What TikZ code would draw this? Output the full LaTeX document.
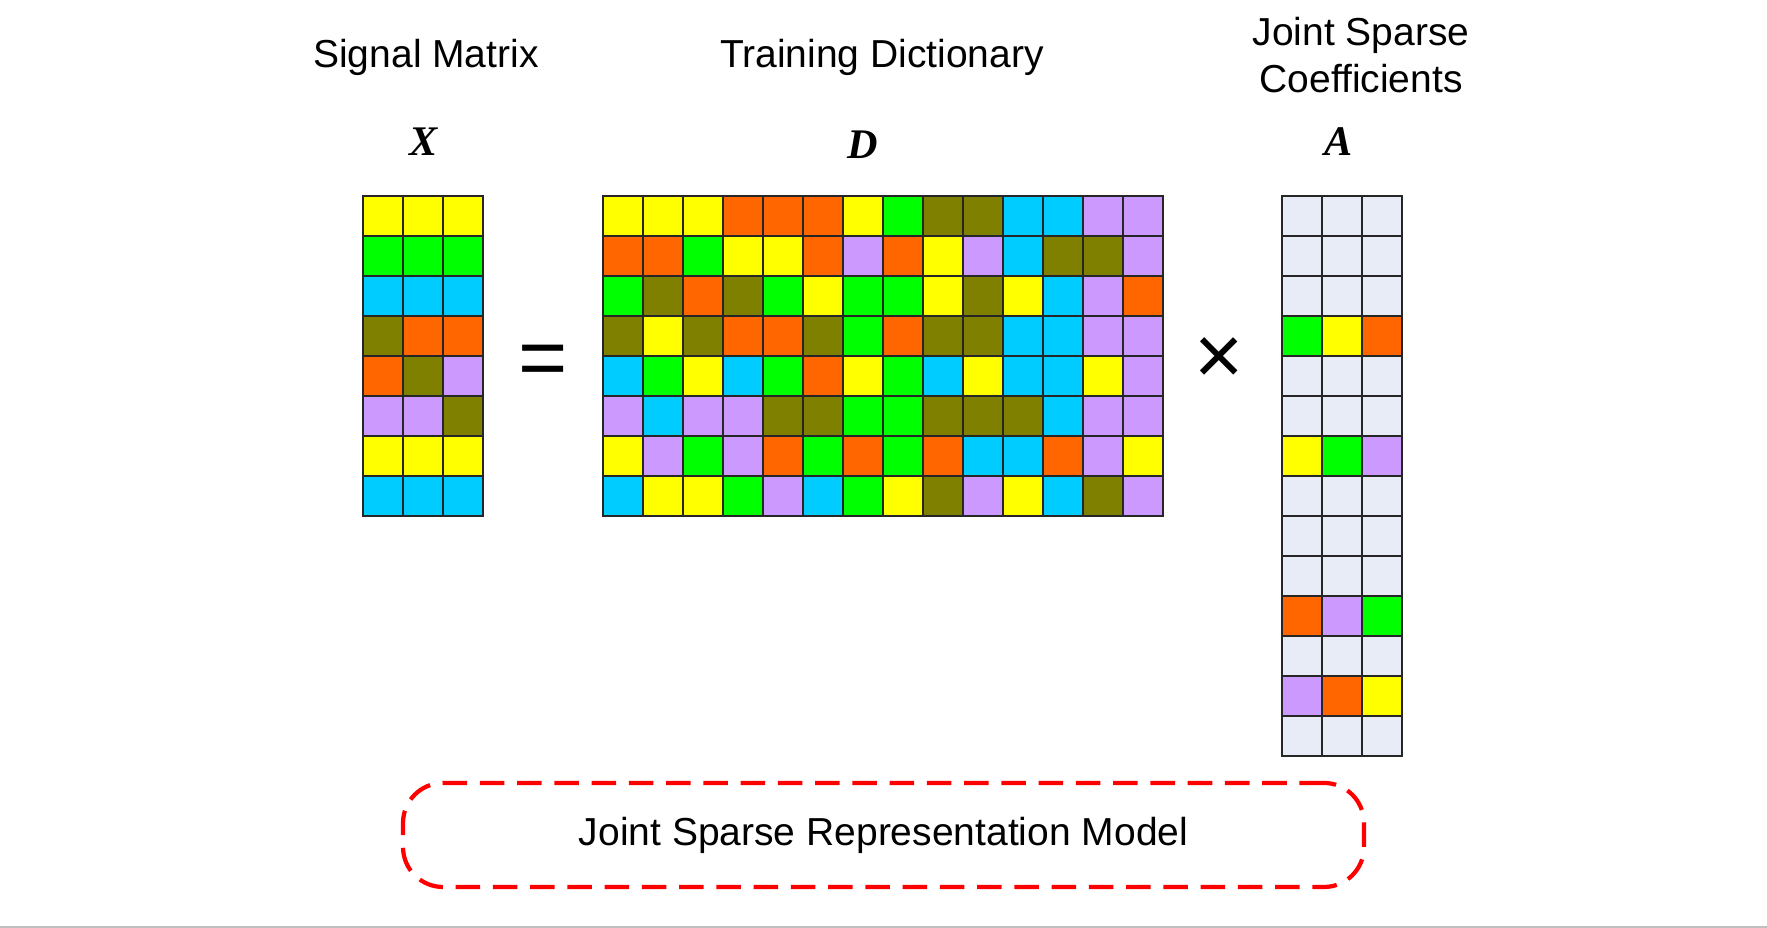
\documentclass[tikz,border=0pt]{standalone}
\usepackage{fontspec}
\setmainfont{Liberation Sans}
\newfontfamily\letterfont{Liberation Serif}
\usepackage{tikz}
\definecolor{cY}{HTML}{FFFF00}
\definecolor{cG}{HTML}{00FF00}
\definecolor{cC}{HTML}{00CCFF}
\definecolor{cO}{HTML}{808000}
\definecolor{cR}{HTML}{FF6600}
\definecolor{cP}{HTML}{CC99FF}
\definecolor{cW}{HTML}{E7ECF6}
\definecolor{dashred}{HTML}{FF0000}

\begin{document}
\begin{tikzpicture}[every node/.style={font=\fontsize{11.1pt}{13.6pt}\selectfont},
  cell/.style={draw=black!85, line width=0.4pt},
  symbol/.style={font=\fontsize{12pt}{14pt}\letterfont\bfseries\itshape},
  operator/.style={font=\fontsize{24pt}{28pt}\selectfont}]
  \useasboundingbox (0,0) rectangle (17.67,9.28);
  \draw[black!25, line width=0.5pt] (0,0.01) -- (17.67,0.01);
  % titles
  \node (xtitle) at (4.26,8.71) {Signal Matrix};
  \node (dtitle) at (8.82,8.71) {Training Dictionary};
  \node[align=center] (atitle) at (13.61,8.73) {Joint Sparse\\Coefficients};
  \node[symbol] (xsym) at (4.24,7.86) {X};
  \node[symbol] (dsym) at (8.63,7.83) {D};
  \node[symbol] (asym) at (13.39,7.86) {A};
  % signal matrix X
  \foreach \row [count=\r] in {{Y,Y,Y},{G,G,G},{C,C,C},{O,R,R},{R,O,P},{P,P,O},{Y,Y,Y},{C,C,C}}
    \foreach \c [count=\k] in \row
      \draw[cell, fill=c\c] ({3.63+0.4*(\k-1)},{7.32-0.4*\r}) rectangle ++(0.4,0.4);
  % training dictionary D
  \foreach \row [count=\r] in {
      {Y,Y,Y,R,R,R,Y,G,O,O,C,C,P,P},
      {R,R,G,Y,Y,R,P,R,Y,P,C,O,O,P},
      {G,O,R,O,G,Y,G,G,Y,O,Y,C,P,R},
      {O,Y,O,R,R,O,G,R,O,O,C,C,P,P},
      {C,G,Y,C,G,R,Y,G,C,Y,C,C,Y,P},
      {P,C,P,P,O,O,G,G,O,O,O,C,P,P},
      {Y,P,G,P,R,G,R,G,R,C,C,R,P,Y},
      {C,Y,Y,G,P,C,G,Y,O,P,Y,C,O,P}}
    \foreach \c [count=\k] in \row
      \draw[cell, fill=c\c] ({6.03+0.4*(\k-1)},{7.32-0.4*\r}) rectangle ++(0.4,0.4);
  % joint sparse coefficients A
  \foreach \row [count=\r] in {{W,W,W},{W,W,W},{W,W,W},{G,Y,R},{W,W,W},{W,W,W},{Y,G,P},
      {W,W,W},{W,W,W},{W,W,W},{R,P,G},{W,W,W},{P,R,Y},{W,W,W}}
    \foreach \c [count=\k] in \row
      \draw[cell, fill=c\c] ({12.82+0.4*(\k-1)},{7.32-0.4*\r}) rectangle ++(0.4,0.4);
  % operators
  \node[operator] (eq) at (5.43,5.62) {=};
  \node[operator] (times) at (12.19,5.67) {×};
  % model box
  \node[draw=dashred, line width=1.2pt, dash pattern=on 7pt off 3.6pt,
    rounded corners=0.4cm, minimum width=9.61cm, minimum height=1.04cm] (model)
    at (8.835,0.93) {Joint Sparse Representation Model};
\end{tikzpicture}
\end{document}
